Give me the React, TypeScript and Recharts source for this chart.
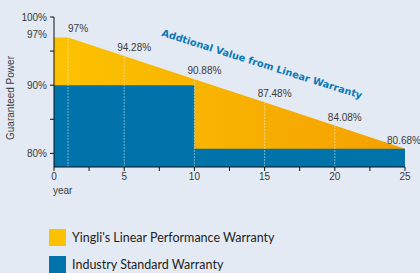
import {
  ComposedChart,
  Area,
  XAxis,
  YAxis,
  ReferenceLine,
  LabelList,
} from 'recharts';

const years = [0, 1, 5, 10, 15, 20, 25];
const linearWarranty = [97, 97, 94.28, 90.88, 87.48, 84.08, 80.68];
const standardWarranty = [90, 90, 90, 80.68, 80.68, 80.68, 80.68];

const xTicks = [0, 2.5, 5, 7.5, 10, 12.5, 15, 17.5, 20, 22.5, 25];
const yTicks = [80, 85, 90, 95, 97, 100];
const yLabelled = [80, 90, 97, 100];

const YELLOW = '#fcc200';
const ORANGE = '#f4a000';
const BLUE = '#0073aa';
const BG = '#e3eaf4';

const data = years.map((year, i) => ({
  year,
  linear: linearWarranty[i],
  standard: standardWarranty[i],
}));

// dashed guides at every labelled point except year 0 and 25
const guides = data.filter((d) => d.year > 0 && d.year < 25);

interface TickProps {
  x?: number;
  y?: number;
  payload?: { value: number };
}

function YTick({ x = 0, y = 0, payload }: TickProps) {
  const v = payload?.value ?? 0;
  return (
    <g>
      {v % 5 === 0 && <line x1={x - 4} x2={x} y1={y} y2={y} stroke="#111" />}
      {yLabelled.includes(v) && (
        <text x={x - 7} y={v === 97 ? y - 3 : y} dy={3.5} textAnchor="end" fontSize={10} fill="#3a3a3a">
          {v}%
        </text>
      )}
    </g>
  );
}

interface PointLabelProps {
  x?: number;
  y?: number;
  value?: number;
  index?: number;
}

function PointLabel({ x = 0, y = 0, value, index }: PointLabelProps) {
  if (index === 0) return null;
  const dx = index === years.length - 1 ? -1 : 10;
  return (
    <text x={x + dx} y={y - 5} textAnchor="middle" fontSize={10} fill="#3a3a3a">
      {value}%
    </text>
  );
}

const font = '"Liberation Sans", Arial, sans-serif';

export default function App() {
  return (
    <div
      style={{
        position: 'absolute',
        left: 0,
        top: 0,
        width: 420,
        height: 273,
        background: BG,
        fontFamily: font,
        overflow: 'hidden',
      }}
    >
      <ComposedChart
        width={420}
        height={200}
        data={data}
        margin={{ top: 17, right: 15, bottom: 13, left: 0 }}
        style={{ fontFamily: font }}
      >
        <defs>
          <linearGradient id="gold" x1="0" y1="0" x2="1" y2="0">
            <stop offset="0%" stopColor={YELLOW} />
            <stop offset="100%" stopColor={ORANGE} />
          </linearGradient>
        </defs>
        <XAxis
          dataKey="year"
          type="number"
          domain={[0, 25]}
          ticks={xTicks}
          interval={0}
          tickFormatter={(v: number) => (v % 5 === 0 ? String(v) : '')}
          tick={{ fontSize: 10, fill: '#3a3a3a' }}
          tickSize={4}
          tickLine={{ stroke: '#111' }}
          axisLine={{ stroke: '#111' }}
          height={20}
        />
        <YAxis
          type="number"
          domain={[78, 100]}
          ticks={yTicks}
          interval={0}
          allowDataOverflow
          width={54}
          tickSize={0}
          tickMargin={0}
          tickLine={false}
          axisLine={{ stroke: '#111' }}
          tick={<YTick />}
        />
        <Area
          type="linear"
          dataKey="linear"
          fill="url(#gold)"
          fillOpacity={1}
          stroke="none"
          isAnimationActive={false}
        >
          <LabelList dataKey="linear" content={<PointLabel />} />
        </Area>
        <Area
          type="stepAfter"
          dataKey="standard"
          fill={BLUE}
          fillOpacity={1}
          stroke="none"
          isAnimationActive={false}
        />
        {guides.map((d) => (
          <ReferenceLine
            key={d.year}
            segment={[
              { x: d.year, y: 78 },
              { x: d.year, y: d.linear },
            ]}
            stroke="#ffffff"
            strokeOpacity={0.45}
            strokeDasharray="2 1"
          />
        ))}
      </ComposedChart>

      <div
        style={{
          position: 'absolute',
          left: 10,
          top: 98,
          transform: 'translate(-50%, -50%) rotate(-90deg)',
          fontSize: 10,
          color: '#3a3a3a',
          whiteSpace: 'nowrap',
        }}
      >
        Guaranteed Power
      </div>
      <div style={{ position: 'absolute', left: 53, top: 185, fontSize: 10, color: '#3a3a3a' }}>
        year
      </div>
      <div
        style={{
          position: 'absolute',
          left: 262,
          top: 64,
          transform: 'translate(-50%, -50%) rotate(17.5deg)',
          fontFamily: '"DejaVu Sans", sans-serif',
          fontWeight: 'bold',
          fontSize: 9.8,
          color: '#0a78b8',
          whiteSpace: 'nowrap',
        }}
      >
        Addtional Value from Linear Warranty
      </div>

      {[
        { color: YELLOW, label: "Yingli's Linear Performance Warranty", top: 229 },
        { color: BLUE, label: 'Industry Standard Warranty', top: 256 },
      ].map((item) => (
        <div
          key={item.label}
          style={{
            position: 'absolute',
            left: 49,
            top: item.top,
            display: 'flex',
            alignItems: 'center',
            gap: 6,
            fontFamily: 'Lato, sans-serif',
            fontSize: 12.5,
            color: '#1e1e1e',
          }}
        >
          <span style={{ width: 17, height: 17, background: item.color, display: 'inline-block' }} />
          <span>{item.label}</span>
        </div>
      ))}
    </div>
  );
}
